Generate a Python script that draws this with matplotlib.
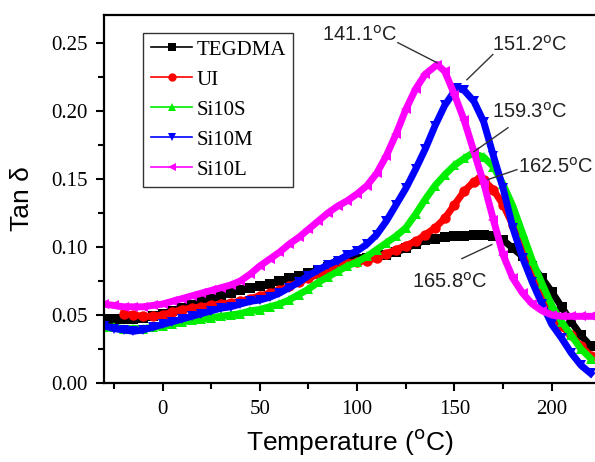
import matplotlib
matplotlib.use("Agg")
import matplotlib.pyplot as plt
from matplotlib.ticker import MultipleLocator

# ---------------- data ----------------
temp_tegdma = [-30, -25, -20, -15, -10, -5, 0, 5, 10, 15, 20, 25, 30, 35, 40, 45, 50, 55, 60, 65,
               70, 75, 80, 85, 90, 95, 100, 105, 110, 115, 120, 125, 130, 135, 140, 145, 150, 155,
               160, 165, 170, 175, 180, 185, 190, 195, 200, 205, 210, 215, 220]
tan_tegdma = [0.047, 0.047, 0.047, 0.047, 0.048, 0.049, 0.051, 0.053, 0.055, 0.057, 0.060, 0.062,
              0.064, 0.066, 0.068, 0.070, 0.071, 0.073, 0.075, 0.077, 0.079, 0.081, 0.083, 0.085,
              0.088, 0.090, 0.091, 0.092, 0.093, 0.094, 0.096, 0.099, 0.102, 0.105, 0.106, 0.107,
              0.108, 0.108, 0.109, 0.109, 0.108, 0.105, 0.099, 0.093, 0.086, 0.077, 0.067, 0.056,
              0.045, 0.035, 0.027]

temp_ui = [-20, -15, -10, -5, 0, 5, 10, 15, 20, 25, 30, 35, 40, 45, 50, 55, 60, 65, 70, 75, 80,
           85, 90, 95, 100, 105, 110, 115, 120, 125, 130, 135, 140, 145, 150, 155, 160, 162.5,
           165, 170, 175, 180, 185, 190, 195, 200, 205, 210, 215, 220]
tan_ui = [0.051, 0.050, 0.049, 0.049, 0.050, 0.052, 0.054, 0.055, 0.056, 0.057, 0.058, 0.059,
          0.060, 0.062, 0.064, 0.066, 0.068, 0.071, 0.074, 0.077, 0.080, 0.083, 0.086, 0.088,
          0.089, 0.090, 0.092, 0.095, 0.098, 0.101, 0.104, 0.109, 0.114, 0.121, 0.131, 0.141,
          0.148, 0.150, 0.149, 0.142, 0.131, 0.116, 0.099, 0.080, 0.065, 0.051, 0.042, 0.035,
          0.027, 0.020]

temp_si10s = [-30, -25, -20, -15, -10, -5, 0, 5, 10, 15, 20, 25, 30, 35, 40, 45, 50, 55, 60, 65,
              70, 75, 80, 85, 90, 95, 100, 105, 110, 115, 120, 125, 130, 135, 140, 145, 150, 155,
              159.3, 165, 170, 175, 180, 185, 190, 195, 200, 205, 210, 215, 220]
tan_si10s = [0.041, 0.041, 0.040, 0.040, 0.040, 0.041, 0.042, 0.043, 0.045, 0.046, 0.047, 0.048,
             0.049, 0.050, 0.051, 0.053, 0.054, 0.056, 0.058, 0.061, 0.065, 0.069, 0.074, 0.078,
             0.082, 0.086, 0.089, 0.093, 0.098, 0.103, 0.108, 0.114, 0.124, 0.135, 0.145, 0.153,
             0.160, 0.165, 0.169, 0.166, 0.159, 0.146, 0.130, 0.110, 0.090, 0.073, 0.057, 0.045,
             0.035, 0.025, 0.018]

temp_si10m = [-30, -25, -20, -15, -10, -5, 0, 5, 10, 15, 20, 25, 30, 35, 40, 45, 50, 55, 60, 65,
              70, 75, 80, 85, 90, 95, 100, 105, 110, 115, 120, 125, 130, 135, 140, 145, 151.2, 155,
              160, 165, 170, 175, 180, 185, 190, 195, 200, 205, 210, 215, 220]
tan_si10m = [0.042, 0.040, 0.039, 0.038, 0.039, 0.041, 0.043, 0.045, 0.047, 0.049, 0.051, 0.053,
             0.055, 0.056, 0.058, 0.060, 0.061, 0.063, 0.066, 0.070, 0.074, 0.079, 0.083, 0.087,
             0.090, 0.094, 0.097, 0.102, 0.109, 0.119, 0.131, 0.143, 0.157, 0.172, 0.189, 0.204,
             0.217, 0.215, 0.207, 0.192, 0.167, 0.143, 0.114, 0.092, 0.074, 0.058, 0.043, 0.033,
             0.022, 0.013, 0.007]

temp_si10l = [-30, -25, -20, -15, -10, -5, 0, 5, 10, 15, 20, 25, 30, 35, 40, 45, 50, 55, 60, 65,
              70, 75, 80, 85, 90, 95, 100, 105, 110, 115, 120, 125, 130, 135, 141.1, 145, 150, 155,
              160, 165, 170, 175, 180, 185, 190, 195, 200, 205, 210, 215, 220]
tan_si10l = [0.058, 0.057, 0.056, 0.056, 0.056, 0.057, 0.058, 0.060, 0.062, 0.064, 0.066, 0.068,
             0.070, 0.072, 0.075, 0.080, 0.086, 0.091, 0.096, 0.102, 0.107, 0.113, 0.119, 0.125,
             0.130, 0.134, 0.139, 0.145, 0.154, 0.167, 0.183, 0.201, 0.216, 0.227, 0.234, 0.229,
             0.212, 0.193, 0.170, 0.147, 0.120, 0.094, 0.077, 0.066, 0.058, 0.053, 0.050, 0.049,
             0.049, 0.049, 0.049]

series_names = ["TEGDMA", "UI", "Si10S", "Si10M", "Si10L"]
peak_labels = ["141.1$^\\mathrm{o}$C", "151.2$^\\mathrm{o}$C", "159.3$^\\mathrm{o}$C",
               "162.5$^\\mathrm{o}$C", "165.8$^\\mathrm{o}$C"]
x_ticks = [0, 50, 100, 150, 200]
y_ticks = [0.00, 0.05, 0.10, 0.15, 0.20, 0.25]

# ---------------- figure ----------------
fig = plt.figure(figsize=(5.95, 4.62), dpi=100)
ax = fig.add_axes([0.175, 0.171, 0.825, 0.797])

serif = "Liberation Serif"
sans = "Liberation Sans"

styles = [("black", "s"), ("#ff0000", "o"), ("#00ee00", "^"), ("#0000ff", "v"), ("#ff00ff", "<")]
data = [(temp_tegdma, tan_tegdma), (temp_ui, tan_ui), (temp_si10s, tan_si10s),
        (temp_si10m, tan_si10m), (temp_si10l, tan_si10l)]
for (xs, ys), name, (c, m) in zip(data, series_names, styles):
    ax.plot(xs, ys, color=c, marker=m, markersize=7.5, linewidth=5, label=name,
            markeredgewidth=0, solid_joinstyle="round")

ax.set_xlim(-30, 222.2)
ax.set_ylim(0, 0.2706)
ax.set_xticks(x_ticks)
ax.set_yticks(y_ticks)
ax.set_yticklabels([f"{v:.2f}" for v in y_ticks])
ax.xaxis.set_minor_locator(MultipleLocator(25))
ax.yaxis.set_minor_locator(MultipleLocator(0.025))
ax.tick_params(which="both", direction="out", width=1.5, top=False, right=False)
ax.tick_params(which="major", length=6, labelsize=15, pad=6)
ax.tick_params(which="minor", length=4)
for lab in ax.get_xticklabels() + ax.get_yticklabels():
    lab.set_fontfamily(serif)
for s in ["left", "bottom", "top"]:
    ax.spines[s].set_linewidth(1.6)
ax.spines["right"].set_visible(False)

ax.set_xlabel("Temperature ($^\\mathrm{o}$C)", fontsize=19, family=sans, labelpad=6)
ax.set_ylabel("Tan δ", fontsize=19, family=sans, labelpad=12)

leg = ax.legend(loc="upper left", bbox_to_anchor=(0.08, 0.951), borderaxespad=0,
                fancybox=False, frameon=True, prop={"family": serif, "size": 15},
                handlelength=2.0, labelspacing=0.5, handletextpad=0.2,
                borderpad=0.35, markerscale=0.8)
leg.get_frame().set_edgecolor("black")
leg.get_frame().set_linewidth(1.0)
for h in leg.get_lines():
    h.set_linewidth(1.2)

# annotations (text position, line start, line end) in data coords
ann = [
    ((101.4, 0.256), (120.9, 0.2501), (141.0, 0.2354), "center"),
    ((188.8, 0.2487), (169.7, 0.2414), (156.4, 0.2229), "center"),
    ((188.8, 0.1994), (177.5, 0.1876), (160.0, 0.1700), "center"),
    ((182.6, 0.1590), (182.1, 0.1568), (167.2, 0.1495), "left"),
    ((147.6, 0.0745), (153.8, 0.0914), (169.2, 0.1017), "center"),
]
for (txy, l0, l1, ha), label in zip(ann, peak_labels):
    ax.text(txy[0], txy[1], label, ha=ha, va="center", fontsize=14.5, family=sans, color="#222222")
    ax.plot([l0[0], l1[0]], [l0[1], l1[1]], color="#333333", linewidth=1.0)

fig.savefig("out.png", dpi=100)
